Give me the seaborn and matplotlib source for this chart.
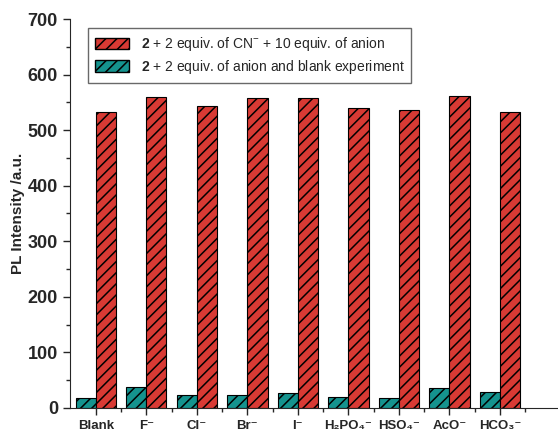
import numpy as np
import pandas as pd
import matplotlib
matplotlib.use("Agg")
import matplotlib.pyplot as plt
import seaborn as sns
from matplotlib.patches import Patch
from matplotlib.ticker import MultipleLocator

# %%
anions = ["Blank", "F", "Cl", "Br", "I", "H2PO4", "HSO4", "AcO", "HCO3"]
tick_labels = ["Blank", "F\u207b", "Cl\u207b", "Br\u207b", "I\u207b",
               "H\u2082PO\u2084\u207b", "HSO\u2084\u207b", "AcO\u207b", "HCO\u2083\u207b"]
with_cn = [532, 560, 543, 558, 558, 539, 537, 561, 532]
anion_only = [18, 37, 23, 24, 26, 19, 18, 35, 28]

label_cn = r"$\mathbf{2}$ + 2 equiv. of CN$^{-}$ + 10 equiv. of anion"
label_blank = r"$\mathbf{2}$ + 2 equiv. of anion and blank experiment"

df = pd.DataFrame({
    "anion": anions * 2,
    "value": anion_only + with_cn,
    "series": [label_blank] * len(anions) + [label_cn] * len(anions),
})

red = "#d83a34"
teal = "#15938e"

# %%
sns.set_style("ticks")
plt.rcParams["font.family"] = ["Liberation Sans", "DejaVu Sans"]
plt.rcParams["hatch.linewidth"] = 1.1
plt.rcParams["mathtext.fontset"] = "custom"
plt.rcParams["mathtext.rm"] = "Liberation Sans"
plt.rcParams["mathtext.bf"] = "Liberation Sans:bold"

fig = plt.figure(figsize=(5.58, 4.33), dpi=100)
ax = fig.add_axes([0.125, 0.058, 0.875, 0.898])

sns.barplot(data=df, x="anion", y="value", hue="series",
            hue_order=[label_blank, label_cn], palette=[teal, red], saturation=1,
            width=0.8, edgecolor="black", linewidth=0.8, ax=ax, legend=False)

for bar in ax.patches:
    bar.set_hatch("///")

ax.set_xlim(-0.515, 9.15)
ax.set_ylim(0, 700)
ax.yaxis.set_major_locator(MultipleLocator(100))
ax.yaxis.set_minor_locator(MultipleLocator(50))
ax.set_xticks(range(len(anions)))
ax.set_xticks(np.arange(0.5, 9, 1), minor=True)
ax.set_xticklabels(tick_labels, fontsize=9.5, fontweight="bold")
for t in ax.get_yticklabels():
    t.set_fontsize(13)
    t.set_fontweight("bold")
ax.tick_params(axis="both", which="major", length=5, width=1)
ax.tick_params(axis="both", which="minor", length=3, width=1)
ax.tick_params(axis="x", which="major", pad=4)
ax.set_xlabel("")
ax.set_ylabel("PL Intensity /a.u.", fontsize=11, fontweight="bold", labelpad=2)
sns.despine(ax=ax)

handles = [Patch(facecolor=red, edgecolor="black", hatch="///", label=label_cn),
           Patch(facecolor=teal, edgecolor="black", hatch="///", label=label_blank)]
leg = ax.legend(handles=handles, loc="upper left", bbox_to_anchor=(0.037, 0.977),
                fontsize=10, frameon=True, fancybox=False, edgecolor="#444444",
                handlelength=2.5, handleheight=0.85, handletextpad=0.8,
                borderpad=0.5, labelspacing=0.35, borderaxespad=0)
leg.get_frame().set_linewidth(1.0)

plt.savefig("out.png", dpi=100)
